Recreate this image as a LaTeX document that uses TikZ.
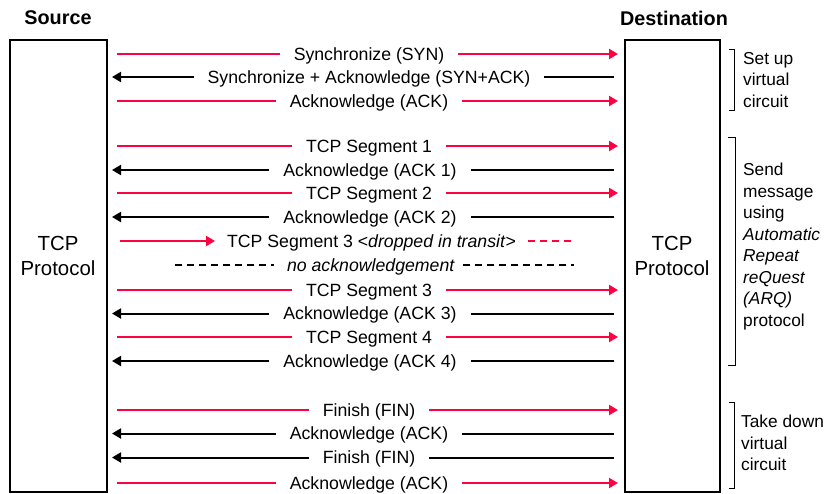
\documentclass[tikz,border=0pt]{standalone}
\usepackage{fontspec}
\setmainfont{Liberation Sans}
\usetikzlibrary{arrows.meta}
\definecolor{msgred}{RGB}{255,0,64}

\begin{document}
\begin{tikzpicture}[x=1pt,y=-1pt,
  every node/.style={font=\fontsize{17.7}{21.5}\selectfont},
  hdr/.style={font=\fontsize{19.8}{22}\selectfont\bfseries},
  host/.style={draw=black, line width=2pt, inner sep=0pt},
  hosttext/.style={align=center, font=\fontsize{20.4}{25}\selectfont},
  tip/.style={-{Triangle[length=9pt,width=10pt]}},
  fwd/.style={draw=msgred, line width=2pt, tip},
  back/.style={draw=black, line width=2pt, tip},
  lost/.style={draw=msgred, line width=2pt, dash pattern=on 7pt off 5pt},
  noack/.style={draw=black, line width=2pt, dash pattern=on 7pt off 5pt},
  msg/.style={fill=white, inner xsep=14pt, inner ysep=3pt, text height=12.7pt, text depth=0pt},
  note/.style={anchor=north west, align=left, inner sep=0pt, font=\fontsize{17.3}{21.5}\selectfont},
  bracket/.style={draw=black, line width=1pt}]

\useasboundingbox (0,0) rectangle (827,493);

% headers
\node[hdr] (srch) at (58,18) {Source};
\node[hdr] (dsth) at (674,18) {Destination};

% the two hosts
\node[host, minimum width=97pt, minimum height=452pt] (src) at (58.5,266) {};
\node[host, minimum width=95pt, minimum height=452pt] (dst) at (672.5,266) {};
\node[hosttext] (srct) at (58,256) {TCP\\Protocol};
\node[hosttext] (dstt) at (672,256) {TCP\\Protocol};

% ---- set up virtual circuit
\coordinate (a1) at (117,54);  \coordinate (b1) at (618,54);
\coordinate (a2) at (614,77);  \coordinate (b2) at (112,77);
\coordinate (a3) at (117,101); \coordinate (b3) at (618,101);
\draw[fwd]  (a1) -- (b1);
\draw[back] (a2) -- (b2);
\draw[fwd]  (a3) -- (b3);
\node[msg] (m1) at (369,54)  {Synchronize (SYN)};
\node[msg] (m2) at (369,77)  {Synchronize + Acknowledge (SYN+ACK)};
\node[msg] (m3) at (369,101) {Acknowledge (ACK)};

% ---- data transfer
\coordinate (a4) at (117,146);  \coordinate (b4) at (618,146);
\coordinate (a5) at (614,170);  \coordinate (b5) at (112,170);
\coordinate (a6) at (117,193);  \coordinate (b6) at (618,193);
\coordinate (a7) at (614,217);  \coordinate (b7) at (112,217);
\draw[fwd]  (a4) -- (b4);
\draw[back] (a5) -- (b5);
\draw[fwd]  (a6) -- (b6);
\draw[back] (a7) -- (b7);
\node[msg] (m4) at (369,146) {TCP Segment 1};
\node[msg] (m5) at (370,170) {Acknowledge (ACK 1)};
\node[msg] (m6) at (369,193) {TCP Segment 2};
\node[msg] (m7) at (370,217) {Acknowledge (ACK 2)};

% lost segment and missing acknowledgement
\coordinate (a8) at (120,241);  \coordinate (b8) at (215,241);
\coordinate (c8) at (528,241);  \coordinate (d8) at (574,241);
\draw[fwd]  (a8) -- (b8);
\draw[lost] (c8) -- (d8);
\node[msg, fill=none] (m8) at (371.5,241) {TCP Segment 3 \textless\textit{dropped in transit}\textgreater};

\coordinate (a9) at (175,265);  \coordinate (b9) at (274,265);
\coordinate (c9) at (463,265);  \coordinate (d9) at (574,265);
\draw[noack] (a9) -- (b9);
\draw[noack] (c9) -- (d9);
\node[msg, fill=none] (m9) at (371,265) {\textit{no acknowledgement}};

\coordinate (a10) at (117,290);  \coordinate (b10) at (618,290);
\coordinate (a11) at (614,313.5);\coordinate (b11) at (112,313.5);
\coordinate (a12) at (117,337);  \coordinate (b12) at (618,337);
\coordinate (a13) at (614,361);  \coordinate (b13) at (112,361);
\draw[fwd]  (a10) -- (b10);
\draw[back] (a11) -- (b11);
\draw[fwd]  (a12) -- (b12);
\draw[back] (a13) -- (b13);
\node[msg] (m10) at (369,290)   {TCP Segment 3};
\node[msg] (m11) at (370,313.5) {Acknowledge (ACK 3)};
\node[msg] (m12) at (369,337)   {TCP Segment 4};
\node[msg] (m13) at (370,361)   {Acknowledge (ACK 4)};

% ---- take down virtual circuit
\coordinate (a14) at (117,410);  \coordinate (b14) at (618,410);
\coordinate (a15) at (614,433.5);\coordinate (b15) at (112,433.5);
\coordinate (a16) at (614,457.5);\coordinate (b16) at (112,457.5);
\coordinate (a17) at (117,483);  \coordinate (b17) at (618,483);
\draw[fwd]  (a14) -- (b14);
\draw[back] (a15) -- (b15);
\draw[back] (a16) -- (b16);
\draw[fwd]  (a17) -- (b17);
\node[msg] (m14) at (369,410)   {Finish (FIN)};
\node[msg] (m15) at (369,433.5) {Acknowledge (ACK)};
\node[msg] (m16) at (369,457.5) {Finish (FIN)};
\node[msg] (m17) at (369,483)   {Acknowledge (ACK)};

% ---- phase brackets and notes
\draw[bracket] (729,49) -- (734,49) -- (734,110) -- (729,110);
\draw[bracket] (728,137) -- (735,137) -- (735,365) -- (728,365);
\draw[bracket] (729,402) -- (734,402) -- (734,488) -- (729,488);

\node[note] (n1) at (743,52) {Set up\\virtual\\circuit};
\node[note] (n2) at (743,163) {Send\\message\\using\\\textit{Automatic}\\\textit{Repeat}\\\textit{reQuest}\\\textit{(ARQ)}\\protocol};
\node[note] (n3) at (741,415) {Take down\\virtual\\circuit};
\end{tikzpicture}
\end{document}
